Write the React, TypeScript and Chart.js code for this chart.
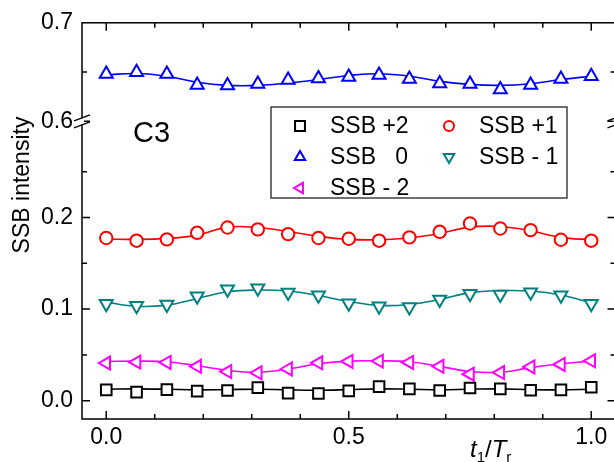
import React, { useEffect, useRef } from "react";
import { Chart, registerables } from "chart.js";

Chart.register(...registerables);

// ---------- data ----------
const phase = [0, 0.0625, 0.125, 0.1875, 0.25, 0.3125, 0.375, 0.4375, 0.5, 0.5625, 0.625, 0.6875, 0.75, 0.8125, 0.875, 0.9375, 1];

const ssbP2 = [0.0118, 0.0093, 0.0121, 0.0104, 0.0111, 0.0143, 0.0082, 0.0079, 0.0107, 0.0154, 0.0129, 0.0111, 0.0139, 0.0129, 0.0114, 0.0118, 0.0146];
const ssbP2Fit = [0.0125, 0.0129, 0.0125, 0.0118, 0.0121, 0.0125, 0.0118, 0.0114, 0.0121, 0.0129, 0.0125, 0.0118, 0.0125, 0.0129, 0.0121, 0.0118, 0.0125];

const ssbP1 = [0.1776, 0.1747, 0.1761, 0.1833, 0.1891, 0.187, 0.1819, 0.1776, 0.1768, 0.1747, 0.1783, 0.1844, 0.1935, 0.188, 0.1862, 0.1757, 0.1747];
const ssbP1Fit = [0.1765, 0.1761, 0.1772, 0.1808, 0.1895, 0.1891, 0.1848, 0.1794, 0.1761, 0.1757, 0.1776, 0.1826, 0.1895, 0.1902, 0.1855, 0.1783, 0.1757];

const ssb0 = [0.648, 0.6497, 0.648, 0.637, 0.6365, 0.638, 0.642, 0.6434, 0.645, 0.647, 0.643, 0.6385, 0.638, 0.6323, 0.637, 0.643, 0.6458];
const ssb0Fit = [0.6472, 0.6486, 0.6458, 0.6396, 0.6365, 0.6365, 0.6389, 0.6424, 0.6465, 0.6483, 0.6458, 0.6406, 0.6375, 0.6365, 0.6382, 0.6424, 0.6458];

const ssbM1 = [0.1058, 0.1037, 0.1051, 0.114, 0.1216, 0.1227, 0.118, 0.1152, 0.1065, 0.1032, 0.1022, 0.1105, 0.1167, 0.116, 0.1184, 0.1152, 0.1058];
const ssbM1Fit = [0.1076, 0.103, 0.1043, 0.1116, 0.119, 0.1208, 0.1197, 0.1148, 0.1083, 0.104, 0.1051, 0.1105, 0.118, 0.1202, 0.1197, 0.1154, 0.107];

const ssbM2 = [0.0411, 0.0421, 0.0418, 0.0375, 0.0318, 0.0304, 0.0346, 0.0414, 0.0428, 0.0432, 0.0418, 0.0375, 0.0289, 0.0307, 0.0368, 0.0396, 0.0435];
const ssbM2Fit = [0.0428, 0.0432, 0.0425, 0.0382, 0.0332, 0.0311, 0.0346, 0.0403, 0.0432, 0.0435, 0.0425, 0.0375, 0.0318, 0.0311, 0.0361, 0.0403, 0.0432];

const xTicks = [0, 0.1, 0.2, 0.3, 0.4, 0.5, 0.6, 0.7, 0.8, 0.9, 1.0];
const xLabels = [0, 0.5, 1.0];
const yTopTicks = [0.6, 0.65, 0.7];
const yTopLabels = [0.6, 0.7];
const yBotTicks = [0, 0.05, 0.1, 0.15, 0.2, 0.25];
const yBotLabels = [0, 0.1, 0.2];

const legendLabels = ["SSB +2", "SSB +1", "SSB   0", "SSB - 1", "SSB - 2"];
const panelLabel = "C3";
const yTitle = "SSB intensity";

// ---------- styling table ----------
const series = [
  { label: legendLabels[0], vals: ssbP2, fit: ssbP2Fit, color: "#000000", style: "rect", rot: 0, r: 7.5, axis: "yBot" },
  { label: legendLabels[1], vals: ssbP1, fit: ssbP1Fit, color: "#FF0000", style: "circle", rot: 0, r: 6.2, axis: "yBot" },
  { label: legendLabels[2], vals: ssb0, fit: ssb0Fit, color: "#0000FF", style: "triangle", rot: 0, r: 7.5, axis: "yTop" },
  { label: legendLabels[3], vals: ssbM1, fit: ssbM1Fit, color: "#008080", style: "triangle", rot: 180, r: 7.5, axis: "yBot" },
  { label: legendLabels[4], vals: ssbM2, fit: ssbM2Fit, color: "#FF00FF", style: "triangle", rot: -90, r: 7.5, axis: "yBot" },
];

const FONT = '"Liberation Sans", Arial, sans-serif';

function drawMarker(ctx: CanvasRenderingContext2D, style: string, rot: number, x: number, y: number, r: number) {
  ctx.beginPath();
  if (style === "rect") {
    const s = r * Math.SQRT1_2;
    ctx.rect(x - s, y - s, 2 * s, 2 * s);
  } else if (style === "circle") {
    ctx.arc(x, y, r, 0, Math.PI * 2);
  } else {
    let a = (rot * Math.PI) / 180;
    for (let i = 0; i < 3; i++) {
      const px = x + Math.sin(a) * r;
      const py = y - Math.cos(a) * r;
      if (i === 0) ctx.moveTo(px, py);
      else ctx.lineTo(px, py);
      a += (2 * Math.PI) / 3;
    }
    ctx.closePath();
  }
  ctx.fillStyle = "#fff";
  ctx.fill();
  ctx.stroke();
}

const framePlugin = {
  id: "frame",
  afterDraw(chart: any) {
    const ctx: CanvasRenderingContext2D = chart.ctx;
    const ca = chart.chartArea;
    const sx = chart.scales.x;
    const yT = chart.scales.yTop;
    const yB = chart.scales.yBot;
    ctx.save();
    ctx.strokeStyle = "#000";
    ctx.lineWidth = 1.5;
    ctx.strokeRect(ca.left, ca.top, ca.right - ca.left, ca.bottom - ca.top);

    // x ticks (bottom + top, inward)
    ctx.beginPath();
    for (const v of xTicks) {
      const px = sx.getPixelForValue(v);
      const len = xLabels.includes(v) ? 8 : 5;
      ctx.moveTo(px, ca.bottom);
      ctx.lineTo(px, ca.bottom - len);
      ctx.moveTo(px, ca.top);
      ctx.lineTo(px, ca.top + len);
    }
    const yTicksFor = (scale: any, ticks: number[], labels: number[]) => {
      for (const v of ticks) {
        const py = scale.getPixelForValue(v);
        if (py <= ca.top + 1 || py >= ca.bottom - 1) continue;
        const len = labels.includes(v) ? 8 : 5;
        ctx.moveTo(ca.left, py);
        ctx.lineTo(ca.left + len, py);
        ctx.moveTo(ca.right, py);
        ctx.lineTo(ca.right - len, py);
      }
    };
    yTicksFor(yT, yTopTicks, yTopLabels);
    yTicksFor(yB, yBotTicks, yBotLabels);
    ctx.stroke();

    // axis breaks
    const yb = yT.bottom;
    for (const ax of [ca.left, ca.right]) {
      ctx.fillStyle = "#fff";
      ctx.fillRect(ax - 2, yb - 3, 4, 6);
      ctx.beginPath();
      ctx.lineWidth = 1.3;
      ctx.moveTo(ax - 8, yb - 0.5);
      ctx.lineTo(ax + 8, yb - 6.5);
      ctx.moveTo(ax - 8, yb + 6.5);
      ctx.lineTo(ax + 8, yb + 0.5);
      ctx.stroke();
    }

    // y title
    ctx.fillStyle = "#000";
    ctx.save();
    ctx.translate(23, 185);
    ctx.rotate(-Math.PI / 2);
    ctx.font = `23px ${FONT}`;
    ctx.textAlign = "center";
    ctx.textBaseline = "middle";
    ctx.fillText(yTitle, 0, 0);
    ctx.restore();

    // panel label
    ctx.font = `29px ${FONT}`;
    ctx.textAlign = "left";
    ctx.textBaseline = "alphabetic";
    ctx.fillText(panelLabel, 133, 142);

    // x title t1/Tr
    let tx = 470;
    const base = 457;
    const parts: [string, string, number][] = [
      ["t", `italic 24px ${FONT}`, 0],
      ["1", `15px ${FONT}`, 5],
      ["/", `24px ${FONT}`, 0],
      ["T", `italic 24px ${FONT}`, 0],
      ["r", `15px ${FONT}`, 5],
    ];
    for (const [s, f, dy] of parts) {
      ctx.font = f;
      ctx.fillText(s, tx, base + dy);
      tx += ctx.measureText(s).width;
    }

    // legend
    ctx.lineWidth = 1.3;
    ctx.strokeStyle = "#222";
    ctx.strokeRect(271, 107, 296, 91);
    const cols = [300, 449];
    const rows = [126, 157, 188];
    ctx.font = `23px ${FONT}`;
    ctx.textBaseline = "middle";
    series.forEach((s, i) => {
      const cx = cols[i % 2];
      const cy = rows[Math.floor(i / 2)];
      ctx.strokeStyle = s.color;
      ctx.lineWidth = 2;
      drawMarker(ctx, s.style, s.rot, cx, cy, s.style === "circle" ? 5 : s.style === "rect" ? 7 : 6);
      ctx.fillStyle = "#000";
      ctx.fillText(s.label, cx + 30, cy + 1);
    });
    ctx.restore();
  },
};

export default function App() {
  const ref = useRef<HTMLCanvasElement | null>(null);
  useEffect(() => {
    if (!ref.current) return;
    const datasets: any[] = [];
    series.forEach((s) => {
      datasets.push({
        label: s.label + " fit",
        data: phase.map((x, i) => ({ x, y: s.fit[i] })),
        yAxisID: s.axis,
        borderColor: s.color,
        borderWidth: 1.6,
        pointRadius: 0,
        tension: 0.4,
        fill: false,
        order: 1,
      });
      datasets.push({
        label: s.label,
        data: phase.map((x, i) => ({ x, y: s.vals[i] })),
        yAxisID: s.axis,
        showLine: false,
        borderColor: s.color,
        backgroundColor: "#ffffff",
        pointBackgroundColor: "#ffffff",
        pointBorderColor: s.color,
        pointBorderWidth: 2,
        pointStyle: s.style,
        pointRotation: s.rot,
        pointRadius: s.r,
        order: 0,
      });
    });
    const tickFont = { family: FONT, size: 23 };
    const chart = new Chart(ref.current, {
      type: "line",
      data: { datasets },
      options: {
        animation: false,
        responsive: false,
        events: [],
        layout: { padding: { left: 22, right: 9, top: 21, bottom: 0 } },
        plugins: { legend: { display: false }, tooltip: { enabled: false } },
        scales: {
          x: {
            type: "linear",
            position: "bottom",
            min: -0.05,
            max: 1.05,
            grid: { display: false, drawTicks: false },
            border: { display: false },
            afterBuildTicks: (sc: any) => {
              sc.ticks = xTicks.map((v) => ({ value: v }));
            },
            afterFit: (sc: any) => {
              sc.height = 43;
            },
            ticks: {
              font: tickFont,
              color: "#000",
              padding: 5,
              maxRotation: 0,
              autoSkip: false,
              callback: (v: any) => (xLabels.includes(v) ? Number(v).toFixed(1) : ""),
            },
          },
          yBot: {
            type: "linear",
            position: "left",
            stack: "ys",
            stackWeight: 299,
            min: -0.02,
            max: 0.305,
            grid: { display: false, drawTicks: false },
            border: { display: false },
            afterBuildTicks: (sc: any) => {
              sc.ticks = yBotTicks.map((v) => ({ value: v }));
            },
            afterFit: (sc: any) => {
              sc.width = 60;
            },
            ticks: {
              font: tickFont,
              color: "#000",
              padding: 9,
              autoSkip: false,
              callback: (v: any) => (yBotLabels.includes(v) ? Number(v).toFixed(1) : ""),
            },
          },
          yTop: {
            type: "linear",
            position: "left",
            stack: "ys",
            stackWeight: 99,
            min: 0.6,
            max: 0.7,
            grid: { display: false, drawTicks: false },
            border: { display: false },
            afterBuildTicks: (sc: any) => {
              sc.ticks = yTopTicks.map((v) => ({ value: v }));
            },
            afterFit: (sc: any) => {
              sc.width = 60;
            },
            ticks: {
              font: tickFont,
              color: "#000",
              padding: 9,
              autoSkip: false,
              callback: (v: any) => (yTopLabels.includes(v) ? Number(v).toFixed(1) : ""),
            },
          },
        },
      } as any,
      plugins: [framePlugin],
    });
    return () => chart.destroy();
  }, []);
  return (
    <div style={{ position: "fixed", left: 0, top: 0, width: 625, height: 462, background: "#fff" }}>
      <canvas ref={ref} width={625} height={462} style={{ display: "block" }} />
    </div>
  );
}
